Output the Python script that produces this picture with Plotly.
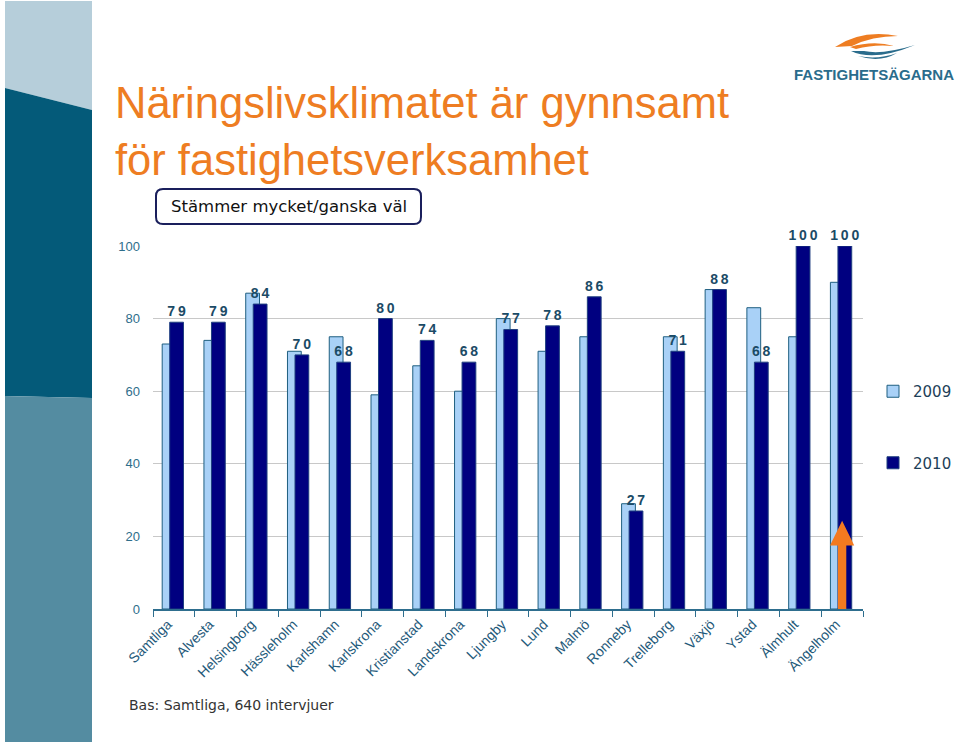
import plotly.graph_objects as go

# ---------------- data ----------------
categories = ["Samtliga", "Alvesta", "Helsingborg", "Hässleholm", "Karlshamn",
              "Karlskrona", "Kristianstad", "Landskrona", "Ljungby", "Lund",
              "Malmö", "Ronneby", "Trelleborg", "Växjö", "Ystad", "Älmhult",
              "Ängelholm"]
values_2009 = [73, 74, 87, 71, 75, 59, 67, 60, 80, 71, 75, 29, 75, 88, 83, 75, 90]
values_2010 = [79, 79, 84, 70, 68, 80, 74, 68, 77, 78, 86, 27, 71, 88, 68, 100, 100]
series_names = ["2009", "2010"]
y_ticks = [0, 20, 40, 60, 80, 100]

title_text = "Näringslivsklimatet är gynnsamt<br>för fastighetsverksamhet"
subtitle_text = "Stämmer mycket/ganska väl"
footnote_text = "Bas: Samtliga, 640 intervjuer"
logo_text = "FASTIGHETSÄGARNA"

# ---------------- layout helpers ----------------
W, H = 960, 744
ML, MR, MT, MB = 153, 97, 246, 135
PW, PH = W - ML - MR, H - MT - MB


def px(x, y):
    return (x - ML) / PW, (H - MB - y) / PH


def path_px(cmds):
    out = []
    for c in cmds:
        if isinstance(c, str):
            out.append(c)
        else:
            xx, yy = px(*c)
            out.append(f"{xx:.5f},{yy:.5f}")
    return " ".join(out)


label_text = ["\u2009".join(str(v)) for v in values_2010]

fig = go.Figure()
fig.add_trace(go.Bar(
    x=categories, y=values_2009, name=series_names[0], legendgroup="a",
    marker=dict(color="#A9D1F7", line=dict(color="#1F5F80", width=1)),
    width=0.33, offset=-0.28, hoverinfo="x+y",
))
fig.add_trace(go.Bar(
    x=categories, y=values_2010, name=series_names[1], legendgroup="b",
    marker=dict(color="#000080", line=dict(color="#1F3F7F", width=1)),
    width=0.33, offset=-0.10,
    text=label_text, textposition="outside", cliponaxis=False,
    constraintext="none",
    textfont=dict(family="Liberation Sans", size=14, color="#1B4B66", weight="bold"),
    hoverinfo="x+y",
))

shapes = []
# left decorative band
shapes.append(dict(type="path", xref="paper", yref="paper", layer="below",
                   path=path_px(["M", (5, 1), "L", (92, 1), "L", (92, 110), "L", (5, 88), "Z"]),
                   fillcolor="#B6CEDA", line=dict(width=0)))
shapes.append(dict(type="path", xref="paper", yref="paper", layer="below",
                   path=path_px(["M", (5, 88), "L", (92, 110), "L", (92, 398), "L", (5, 396), "Z"]),
                   fillcolor="#045A79", line=dict(width=0)))
shapes.append(dict(type="path", xref="paper", yref="paper", layer="below",
                   path=path_px(["M", (5, 396), "L", (92, 398), "L", (92, 742), "L", (5, 742), "Z"]),
                   fillcolor="#548CA1", line=dict(width=0)))
# subtitle rounded box
x0, y0, x1, y1, r = 156, 189, 421, 224, 7
shapes.append(dict(type="path", xref="paper", yref="paper",
                   path=path_px(["M", (x0 + r, y0), "L", (x1 - r, y0), "Q", (x1, y0), (x1, y0 + r),
                                 "L", (x1, y1 - r), "Q", (x1, y1), (x1 - r, y1),
                                 "L", (x0 + r, y1), "Q", (x0, y1), (x0, y1 - r),
                                 "L", (x0, y0 + r), "Q", (x0, y0), (x0 + r, y0), "Z"]),
                   fillcolor="white", line=dict(color="#1A1F5C", width=2)))
# logo swooshes
dx = 2
shapes.append(dict(type="path", xref="paper", yref="paper",
                   path=path_px(["M", (833 + dx, 47), "Q", (860 + dx, 29), (896 + dx, 36),
                                 "Q", (870 + dx, 36), (850 + dx, 46), "Z"]),
                   fillcolor="#EE7D22", line=dict(width=0)))
shapes.append(dict(type="path", xref="paper", yref="paper",
                   path=path_px(["M", (848 + dx, 47), "Q", (872 + dx, 40), (892 + dx, 46),
                                 "Q", (872 + dx, 44), (854 + dx, 49), "Z"]),
                   fillcolor="#EE7D22", line=dict(width=0)))
shapes.append(dict(type="path", xref="paper", yref="paper",
                   path=path_px(["M", (849 + dx, 51), "Q", (872 + dx, 62), (913 + dx, 45),
                                 "Q", (880 + dx, 55), (862 + dx, 51), "Z"]),
                   fillcolor="#2A6C8C", line=dict(width=0)))
shapes.append(dict(type="path", xref="paper", yref="paper",
                   path=path_px(["M", (856 + dx, 56), "Q", (876 + dx, 60), (895 + dx, 53),
                                 "Q", (878 + dx, 63), (856 + dx, 56), "Z"]),
                   fillcolor="#2A6C8C", line=dict(width=0)))
# orange arrow pointing at Ängelholm
ax_c = len(categories) - 1
shapes.append(dict(type="path", xref="x", yref="y",
                   path=(f"M {ax_c - 0.10},-1 L {ax_c + 0.10},-1 L {ax_c + 0.10},17.5 "
                         f"L {ax_c + 0.29},17.5 L {ax_c},24.3 L {ax_c - 0.29},17.5 "
                         f"L {ax_c - 0.10},17.5 Z"),
                   fillcolor="#F47A20", line=dict(width=0)))

annotations = []
tx, ty = px(113, 77)
annotations.append(dict(xref="paper", yref="paper", x=tx, y=ty, xanchor="left", yanchor="top",
                        text=title_text, showarrow=False, align="left",
                        font=dict(family="Liberation Sans", size=43.5, color="#EE7D22")))
sx, sy = px(288.5, 207)
annotations.append(dict(xref="paper", yref="paper", x=sx, y=sy, xanchor="center", yanchor="middle",
                        text=subtitle_text, showarrow=False,
                        font=dict(family="DejaVu Sans", size=16.5, color="#111111")))
fx, fy = px(127, 705)
annotations.append(dict(xref="paper", yref="paper", x=fx, y=fy, xanchor="left", yanchor="middle",
                        text=footnote_text, showarrow=False,
                        font=dict(family="DejaVu Sans", size=14, color="#333333")))
lx, ly = px(873.5, 74)
annotations.append(dict(xref="paper", yref="paper", x=lx, y=ly, xanchor="center", yanchor="middle",
                        text=logo_text, showarrow=False,
                        font=dict(family="Liberation Sans", size=15, color="#2A6C8C", weight="bold")))

fig.update_layout(
    width=W, height=H,
    margin=dict(l=ML, r=MR, t=MT, b=MB, pad=0, autoexpand=False),
    paper_bgcolor="white", plot_bgcolor="white",
    barmode="overlay",
    showlegend=True,
    legend=dict(xref="container", yref="container", x=873 / W, y=1 - 375 / H,
                xanchor="left", yanchor="top",
                tracegroupgap=49, traceorder="grouped",
                font=dict(family="DejaVu Sans", size=15, color="#1E3F58"),
                bgcolor="rgba(0,0,0,0)", itemwidth=30),
    xaxis=dict(type="category", range=[-0.5, len(categories) - 0.5],
               showgrid=False, showline=True, linecolor="#2E6E8E", linewidth=1.5,
               ticks="outside", tickson="boundaries", ticklen=6, tickcolor="#2E6E8E",
               tickangle=-45, ticklabelshift=-6,
               tickfont=dict(family="Liberation Sans", size=14, color="#1F5A7A")),
    yaxis=dict(range=[0, 100], tickvals=y_ticks, showgrid=True, gridcolor="#C8C8C8",
               gridwidth=1, zeroline=False, showline=False, ticks="",
               ticklabelstandoff=12,
               tickfont=dict(family="Liberation Sans", size=13, color="#2E6E8B")),
    shapes=shapes, annotations=annotations,
    hovermode="closest",
)

fig.write_html("out.html", config={"displayModeBar": False},
               post_script="document.body.style.margin='0';document.body.style.overflow='hidden';")
